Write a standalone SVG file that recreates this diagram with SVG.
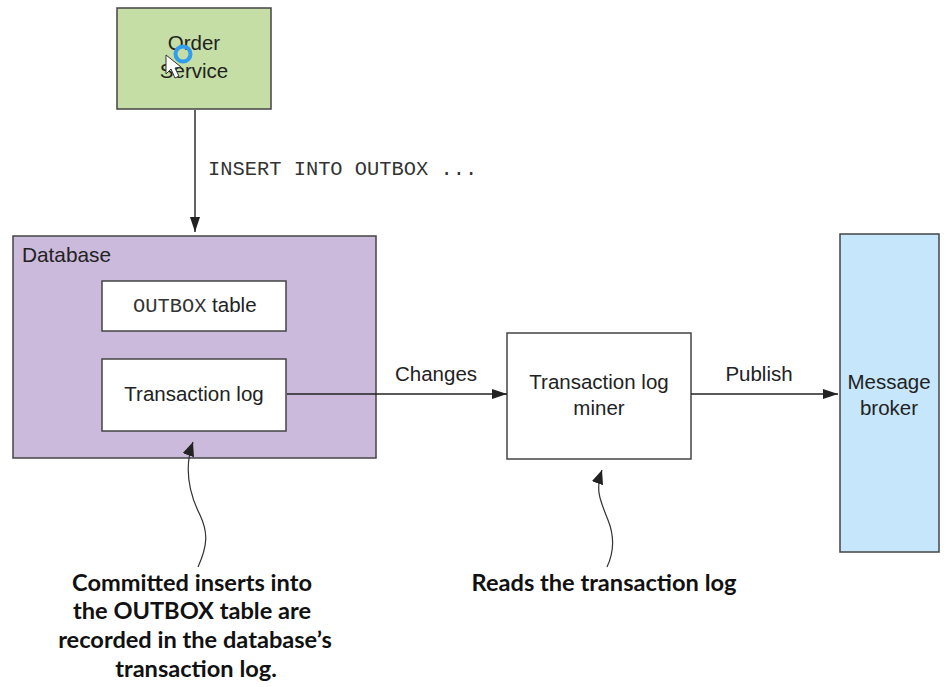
<svg xmlns="http://www.w3.org/2000/svg" width="949" height="687" viewBox="0 0 949 687">
<style>
text{font-family:"Liberation Sans",Arial,sans-serif;font-size:20.5px;fill:#222}
.c{text-anchor:middle}
.m{font-family:"Liberation Mono","Courier New",monospace;font-size:20.4px;fill:#333}
.n{font-family:Lato,"Open Sans",sans-serif;font-weight:700;font-size:23.6px;fill:#111;text-anchor:middle}
.b{stroke:#444;stroke-width:1.5}
.l{fill:none;stroke:#222;stroke-width:1.4}
.h{fill:none;stroke:#333;stroke-width:1.2}
</style>
<defs>
<marker id="a" markerUnits="userSpaceOnUse" markerWidth="16" markerHeight="12" refX="15" refY="5" orient="auto"><path d="M0 0L15 5L0 10z" fill="#222"/></marker>
<marker id="w" markerUnits="userSpaceOnUse" markerWidth="16" markerHeight="14" refX="14" refY="6" orient="auto"><path d="M0 0L14 6L0 12z" fill="#222"/></marker>
</defs>
<rect width="949" height="687" fill="#fff"/>
<g id="order-service">
<rect class="b" x="117" y="8" width="154" height="101" fill="#c5dea5"/>
<text class="c" x="194" y="50">Order</text>
<text class="c" x="194" y="78">Service</text>
</g>
<g id="cursor">
<circle cx="183" cy="54" r="7.5" fill="none" stroke="#2f9df0" stroke-width="4"/>
<path d="M166 55L166 74L171 69L175 78L179 76L175 68L181 67z" fill="#fff" stroke="#333" stroke-width="1"/>
</g>
<text class="m" x="208" y="175">INSERT INTO OUTBOX ...</text>
<g id="database">
<rect class="b" x="13" y="236" width="363" height="222" fill="#cbbadb"/>
<text x="22" y="262" style="font-size:20.8px">Database</text>
</g>
<g id="outbox-table">
<rect class="b" x="102" y="281" width="184" height="50" fill="#fff"/>
<text x="133" y="312"><tspan class="m">OUTBOX</tspan> table</text>
</g>
<g id="transaction-log">
<rect class="b" x="102" y="359" width="184" height="72" fill="#fff"/>
<text class="c" x="194" y="401">Transaction log</text>
</g>
<text class="c" x="436" y="381">Changes</text>
<g id="miner">
<rect class="b" x="507" y="333" width="184" height="126" fill="#fff"/>
<text class="c" x="599" y="389">Transaction log</text>
<text class="c" x="599" y="415">miner</text>
</g>
<text class="c" x="759" y="381">Publish</text>
<g id="message-broker">
<rect class="b" x="840" y="234" width="99" height="318" fill="#c6e6fb"/>
<text class="c" x="889" y="389">Message</text>
<text class="c" x="889" y="415">broker</text>
</g>
<g id="connectors">
<path class="l" d="M195 110V232" marker-end="url(#a)"/>
<path class="l" d="M287 394H507" marker-end="url(#a)"/>
<path class="l" d="M691 394H838" marker-end="url(#a)"/>
<path class="h" d="M198 567C208 545 208 532 200 515C190 495 183 470 193 442" marker-end="url(#w)"/>
<path class="h" d="M607 567C615 550 614 535 608 520C600 500 595 490 602 470" marker-end="url(#w)"/>
</g>
<g id="notes">
<text class="n" x="192" y="591">Committed inserts into</text>
<text class="n" x="192" y="619">the OUTBOX table are</text>
<text class="n" x="195" y="648">recorded in the database’s</text>
<text class="n" x="196" y="677">transaction log.</text>
<text class="n" x="604" y="591">Reads the transaction log</text>
</g>
</svg>
